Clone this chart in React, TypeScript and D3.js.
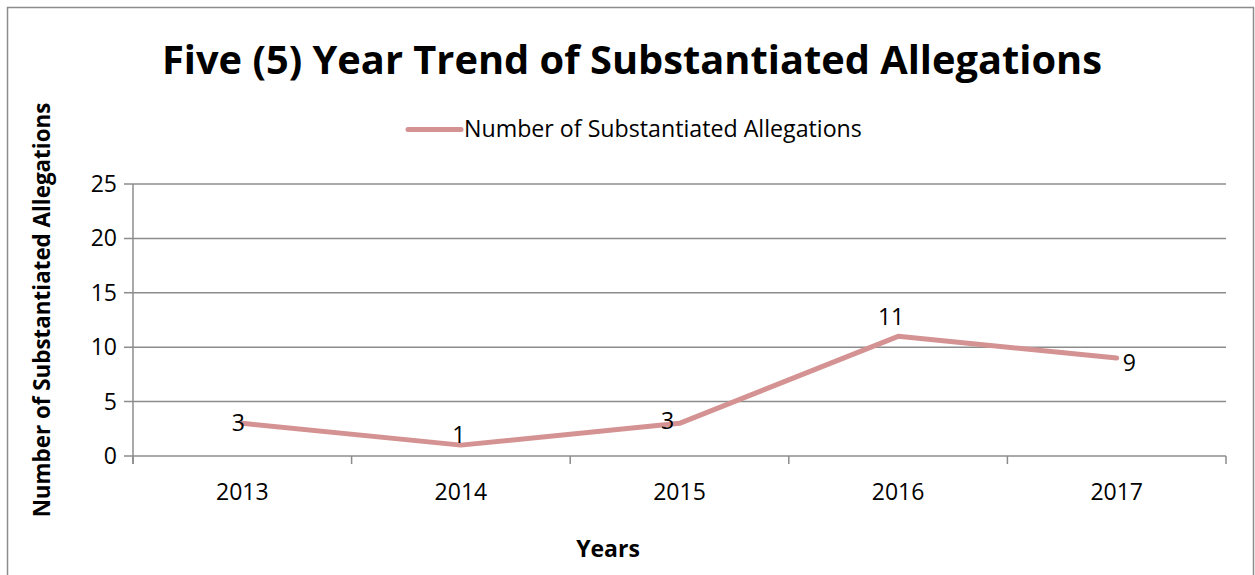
import React from "react";
import * as d3 from "d3";

const years = ["2013", "2014", "2015", "2016", "2017"];
const values = [3, 1, 3, 11, 9];
const yTicks = [0, 5, 10, 15, 20, 25];
const seriesName = "Number of Substantiated Allegations";
const titleText = "Five (5) Year Trend of Substantiated Allegations";
const xTitle = "Years";
const yTitle = "Number of Substantiated Allegations";
// label placement relative to point: [dx, dy, anchor]
const labelPlacement: [number, number, string][] = [
  [-4, 8, "middle"],
  [-2, -2, "middle"],
  [-12, 6, "middle"],
  [-7, -11, "middle"],
  [6, 13, "start"],
];

const W = 1255, H = 575;
const left = 133, right = 1226, top = 184, bottom = 456;
const FONT = "'Open Sans', sans-serif";
const LINE = "#D49392";
const GRID = "#8c8c8c";

export default function App() {
  const x = d3.scaleBand<string>().domain(years).range([left, right]).padding(0);
  const y = d3.scaleLinear().domain([0, 25]).range([bottom, top]);
  const line = d3
    .line<number>()
    .x((_, i) => (x(years[i]) as number) + x.bandwidth() / 2)
    .y((d) => y(d));
  const boundaries = [...years.map((yr) => x(yr) as number), right];

  return (
    <svg
      width={W}
      height={H}
      style={{ position: "absolute", left: 0, top: 0, background: "#fff" }}
      fontFamily={FONT}
    >
      <rect x={7.5} y={7.5} width={1246} height={600} fill="#fff" stroke={GRID} strokeWidth={1.5} />
      <text x={632} y={74} textAnchor="middle" fontSize={39.8} fontWeight="bold" fill="#000">
        {titleText}
      </text>
      {/* legend */}
      <line x1={408} x2={461} y1={129.5} y2={129.5} stroke={LINE} strokeWidth={5} strokeLinecap="round" />
      <text x={464} y={137} fontSize={23.2} fill="#000">
        {seriesName}
      </text>
      {/* grid */}
      {yTicks.map((t) => (
        <g key={t}>
          <line x1={124} x2={right} y1={y(t)} y2={y(t)} stroke={GRID} strokeWidth={1.5} />
          <text x={117} y={y(t) + 8} textAnchor="end" fontSize={23} fill="#000">
            {t}
          </text>
        </g>
      ))}
      <line x1={left} x2={left} y1={top} y2={bottom + 8} stroke={GRID} strokeWidth={1.5} />
      {boundaries.map((b, i) => (
        <line key={i} x1={b} x2={b} y1={bottom} y2={bottom + 8} stroke={GRID} strokeWidth={1.5} />
      ))}
      {years.map((yr) => (
        <text
          key={yr}
          x={(x(yr) as number) + x.bandwidth() / 2}
          y={500}
          textAnchor="middle"
          fontSize={23}
          fill="#000"
        >
          {yr}
        </text>
      ))}
      <path d={line(values) || ""} fill="none" stroke={LINE} strokeWidth={5} strokeLinejoin="round" strokeLinecap="round" />
      {values.map((v, i) => {
        const px = (x(years[i]) as number) + x.bandwidth() / 2;
        const [dx, dy, anchor] = labelPlacement[i];
        return (
          <text key={i} x={px + dx} y={y(v) + dy} textAnchor={anchor as any} fontSize={23} fill="#000">
            {v}
          </text>
        );
      })}
      <text x={608} y={557} textAnchor="middle" fontSize={23} fontWeight="bold" fill="#000">
        {xTitle}
      </text>
      <text
        transform={`translate(50, 310) rotate(-90)`}
        textAnchor="middle"
        fontSize={22.4}
        fontWeight="bold"
        fill="#000"
      >
        {yTitle}
      </text>
    </svg>
  );
}
